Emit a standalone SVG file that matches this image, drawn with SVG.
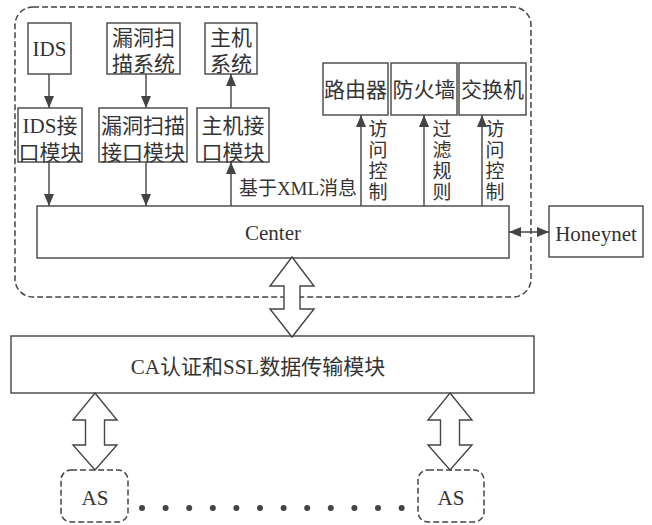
<svg xmlns="http://www.w3.org/2000/svg" width="652" height="525" viewBox="0 0 652 525">
<defs>
<style>
.box{fill:#fff;stroke:#444;stroke-width:1.4}
.dash{fill:none;stroke:#444;stroke-width:1.5;stroke-dasharray:6 3}
.ln{stroke:#444;stroke-width:1.4;fill:none}
.big{fill:#fff;stroke:#444;stroke-width:1.4;stroke-linejoin:miter}
text{font-family:"Liberation Serif","Noto Sans CJK SC",serif;font-size:21px;fill:#333;text-anchor:middle}
.v{font-size:19px}
.xml{font-size:19px}
</style>
<marker id="ah" viewBox="0 0 12 10" refX="12" refY="5" markerWidth="12" markerHeight="10" markerUnits="userSpaceOnUse" orient="auto-start-reverse">
<path d="M0,0 L12,5 L0,10 Z" fill="#444"/>
</marker>
</defs>
<rect width="652" height="525" fill="#fff"/>
<rect id="container" class="dash" x="15" y="7" width="516" height="290" rx="18"/>

<g id="ids"><rect class="box" x="28" y="23" width="43" height="51"/><text x="49.5" y="56">IDS</text></g>
<g id="scan"><rect class="box" x="107" y="23" width="73" height="51"/><text x="143.5" y="45">漏洞扫</text><text x="143.5" y="71">描系统</text></g>
<g id="host"><rect class="box" x="205" y="23" width="52" height="51"/><text x="231" y="45">主机</text><text x="231" y="71">系统</text></g>

<g id="ids-if"><rect class="box" x="18" y="108" width="64" height="54"/><text x="50" y="133">IDS接</text><text x="50" y="160">口模块</text></g>
<g id="scan-if"><rect class="box" x="99" y="108" width="88" height="54"/><text x="143" y="133">漏洞扫描</text><text x="143" y="160">接口模块</text></g>
<g id="host-if"><rect class="box" x="197" y="108" width="72" height="54"/><text x="233" y="133">主机接</text><text x="233" y="160">口模块</text></g>

<g id="router"><rect class="box" x="323" y="63" width="65" height="52"/><text x="355.5" y="97">路由器</text></g>
<g id="firewall"><rect class="box" x="391" y="63" width="66" height="52"/><text x="424" y="97">防火墙</text></g>
<g id="switch"><rect class="box" x="459" y="63" width="67" height="52"/><text x="492.5" y="97">交换机</text></g>

<g id="center"><rect class="box" x="37" y="206" width="472" height="52"/><text x="273" y="240">Center</text></g>
<g id="honeynet"><rect class="box" x="549" y="206" width="94" height="51"/><text x="596" y="241">Honeynet</text></g>
<g id="ca"><rect class="box" x="11" y="336" width="523" height="57"/><text x="258" y="374">CA认证和SSL数据传输模块</text></g>

<g id="as1"><rect class="dash" x="61" y="470" width="67" height="52" rx="10"/><text x="95" y="505">AS</text></g>
<g id="as2"><rect class="dash" x="418" y="470" width="66" height="52" rx="10"/><text x="451" y="505">AS</text></g>

<g id="connectors">
<line class="ln" x1="49" y1="74" x2="49" y2="108" marker-end="url(#ah)"/>
<line class="ln" x1="49" y1="162" x2="49" y2="206" marker-end="url(#ah)"/>
<line class="ln" x1="146" y1="74" x2="146" y2="108" marker-end="url(#ah)"/>
<line class="ln" x1="146" y1="162" x2="146" y2="206" marker-end="url(#ah)"/>
<line class="ln" x1="231" y1="108" x2="231" y2="74" marker-end="url(#ah)"/>
<line class="ln" x1="231" y1="206" x2="231" y2="162" marker-end="url(#ah)"/>
<line class="ln" x1="361" y1="206" x2="361" y2="115" marker-end="url(#ah)"/>
<line class="ln" x1="424" y1="206" x2="424" y2="115" marker-end="url(#ah)"/>
<line class="ln" x1="482" y1="206" x2="482" y2="115" marker-end="url(#ah)"/>
<line class="ln" x1="509" y1="232" x2="549" y2="232" marker-start="url(#ah)" marker-end="url(#ah)"/>
<polygon class="big" points="292,257 314,286 300,286 300,309 314,309 292,337 270,309 284,309 284,286 270,286"/>
<polygon class="big" points="95,393 117,420 104.5,420 104.5,445 117,445 95,470 73,445 85.5,445 85.5,420 73,420"/>
<polygon class="big" points="450,393 472,420 459.5,420 459.5,445 472,445 450,470 428,445 440.5,445 440.5,420 428,420"/>
</g>

<g id="labels">
<text class="xml" x="298" y="195">基于XML消息</text>
<text class="v" x="378" y="136">访</text><text class="v" x="378" y="157">问</text><text class="v" x="378" y="178">控</text><text class="v" x="378" y="199">制</text>
<text class="v" x="442" y="136">过</text><text class="v" x="442" y="157">滤</text><text class="v" x="442" y="178">规</text><text class="v" x="442" y="199">则</text>
<text class="v" x="495" y="136">访</text><text class="v" x="495" y="157">问</text><text class="v" x="495" y="178">控</text><text class="v" x="495" y="199">制</text>
</g>

<g id="dots" fill="#444">
<circle cx="142" cy="508" r="3"/><circle cx="165.6" cy="508" r="3"/><circle cx="189.2" cy="508" r="3"/><circle cx="212.8" cy="508" r="3"/><circle cx="236.4" cy="508" r="3"/><circle cx="260" cy="508" r="3"/><circle cx="283.6" cy="508" r="3"/><circle cx="307.2" cy="508" r="3"/><circle cx="330.8" cy="508" r="3"/><circle cx="354.4" cy="508" r="3"/><circle cx="378" cy="508" r="3"/><circle cx="401.6" cy="508" r="3"/>
</g>
</svg>
